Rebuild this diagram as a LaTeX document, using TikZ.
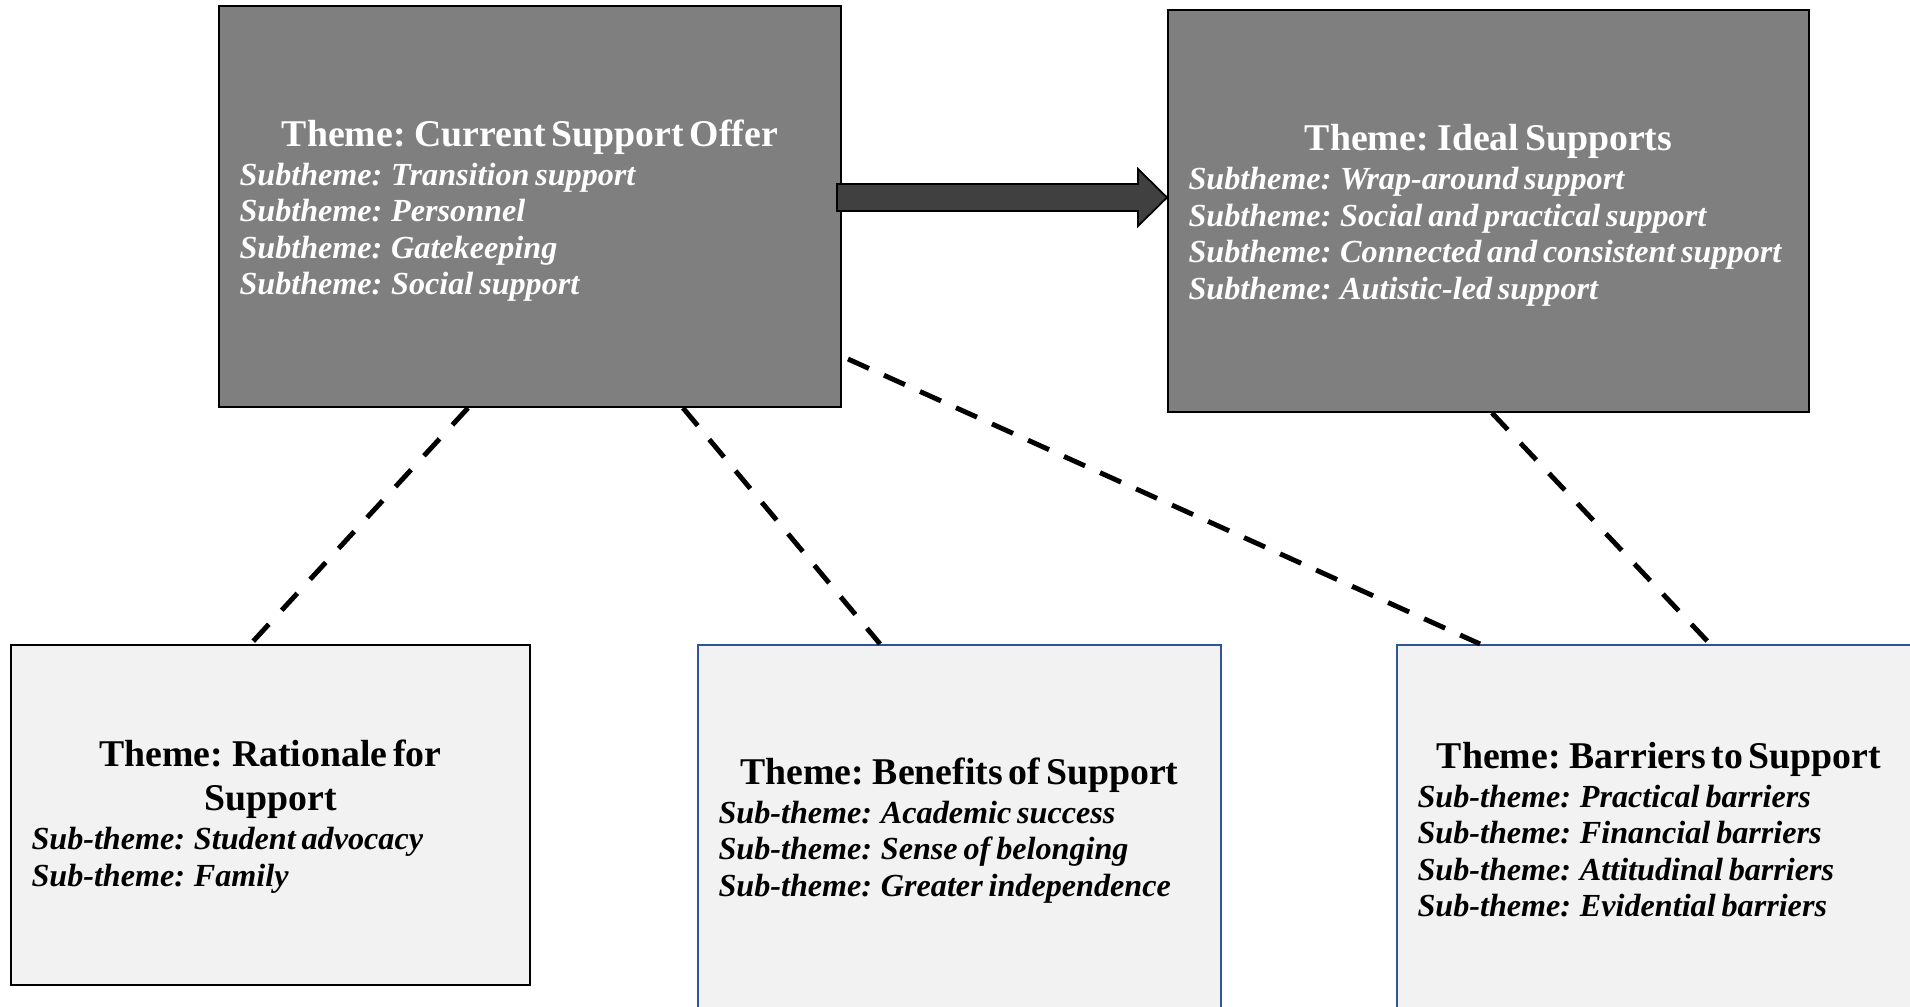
\documentclass[tikz,border=0pt]{standalone}
\usepackage{fontspec}
\setmainfont{Liberation Serif}
\definecolor{themedark}{RGB}{127,127,127}
\definecolor{themelight}{RGB}{242,242,242}
\definecolor{boxblue}{RGB}{47,85,151}
\definecolor{arrowfill}{RGB}{64,64,64}

\newcommand{\themetitle}[1]{{\centering\fontsize{21.5}{25}\selectfont\bfseries #1\par}\vspace{1.4pt}}
\newcommand{\subthemeline}[1]{{\fontsize{18.3}{20.8}\selectfont\bfseries\itshape #1\par}}

\begin{document}
\begin{tikzpicture}[
  darkbox/.style={draw=black, line width=1.1pt, fill=themedark, text=white,
    inner xsep=0.41cm, inner ysep=0pt, align=left},
  lightbox/.style={draw=black, line width=1.6pt, fill=themelight, text=black,
    inner xsep=0.41cm, inner ysep=0pt, align=left},
  bluebox/.style={lightbox, draw=boxblue, line width=1.2pt},
  link/.style={draw=black, line width=2.8pt, dash pattern=on 0.46cm off #1},
  link/.default=0.34cm,
  bigarrow/.style={draw=black, line width=1pt, fill=arrowfill},
]

  % Page frame (1910 x 1006)
  \path[use as bounding box] (0,0) rectangle (38.2,-20.12);

  % --- Top row: main themes ---
  \node[darkbox, text width=11.62cm, minimum width=12.44cm, minimum height=8.02cm]
    (cur) at (10.6,-4.13) {%
    \themetitle{Theme: Current Support Offer}
    \subthemeline{Subtheme: Transition support}
    \subthemeline{Subtheme: Personnel}
    \subthemeline{Subtheme: Gatekeeping}
    \subthemeline{Subtheme: Social support}
    \vspace{-0.17cm}};

  \node[darkbox, text width=12cm, minimum width=12.82cm, minimum height=8.04cm]
    (ideal) at (29.77,-4.22) {%
    \themetitle{Theme: Ideal Supports}
    \subthemeline{Subtheme: Wrap-around support}
    \subthemeline{Subtheme: Social and practical support}
    \subthemeline{Subtheme: Connected and consistent support}
    \subthemeline{Subtheme: Autistic-led support}
    \vspace{-0.17cm}};

  % --- Bottom row ---
  \node[lightbox, text width=9.56cm, minimum width=10.38cm, minimum height=6.8cm]
    (rat) at (5.41,-16.3) {%
    \themetitle{Theme: Rationale for\\Support}
    \subthemeline{Sub-theme: Student advocacy}
    \subthemeline{Sub-theme: Family}
    \vspace{-0.07cm}};

  \node[bluebox, text width=9.64cm, minimum width=10.46cm, minimum height=7.42cm]
    (ben) at (19.19,-16.61) {%
    \themetitle{Theme: Benefits of Support}
    \subthemeline{Sub-theme: Academic success}
    \subthemeline{Sub-theme: Sense of belonging}
    \subthemeline{Sub-theme: Greater independence}};

  \node[bluebox, text width=9.66cm, minimum width=10.48cm, minimum height=7.38cm]
    (bar) at (33.18,-16.59) {%
    \themetitle{Theme: Barriers to Support}
    \subthemeline{Sub-theme: Practical barriers}
    \subthemeline{Sub-theme: Financial barriers}
    \subthemeline{Sub-theme: Attitudinal barriers}
    \subthemeline{Sub-theme: Evidential barriers}};

  % --- Block arrow: current -> ideal ---
  \coordinate (arrS) at ([xshift=-0.1cm,yshift=0.18cm]cur.east);
  \coordinate (arrE) at (arrS -| ideal.west);
  \draw[bigarrow] ([yshift=0.27cm]arrS)
    -- ([xshift=-0.58cm,yshift=0.27cm]arrE) -- ([xshift=-0.58cm,yshift=0.57cm]arrE)
    -- (arrE)
    -- ([xshift=-0.58cm,yshift=-0.57cm]arrE) -- ([xshift=-0.58cm,yshift=-0.27cm]arrE)
    -- ([yshift=-0.27cm]arrS) -- cycle;

  % --- Dashed links ---
  \draw[link=0.38cm] ([xshift=-1.24cm]cur.south) -- ([xshift=-0.39cm]rat.north);
  \draw[link=0.36cm] ([xshift=3.06cm]cur.south) -- ([xshift=-1.59cm]ben.north);
  \draw[link=0.33cm] ([xshift=0.12cm,yshift=-3.05cm]cur.east) -- ([xshift=-3.58cm]bar.north);
  \draw[link=0.37cm] ([xshift=0.07cm]ideal.south) -- ([xshift=1.02cm]bar.north);

\end{tikzpicture}
\end{document}
